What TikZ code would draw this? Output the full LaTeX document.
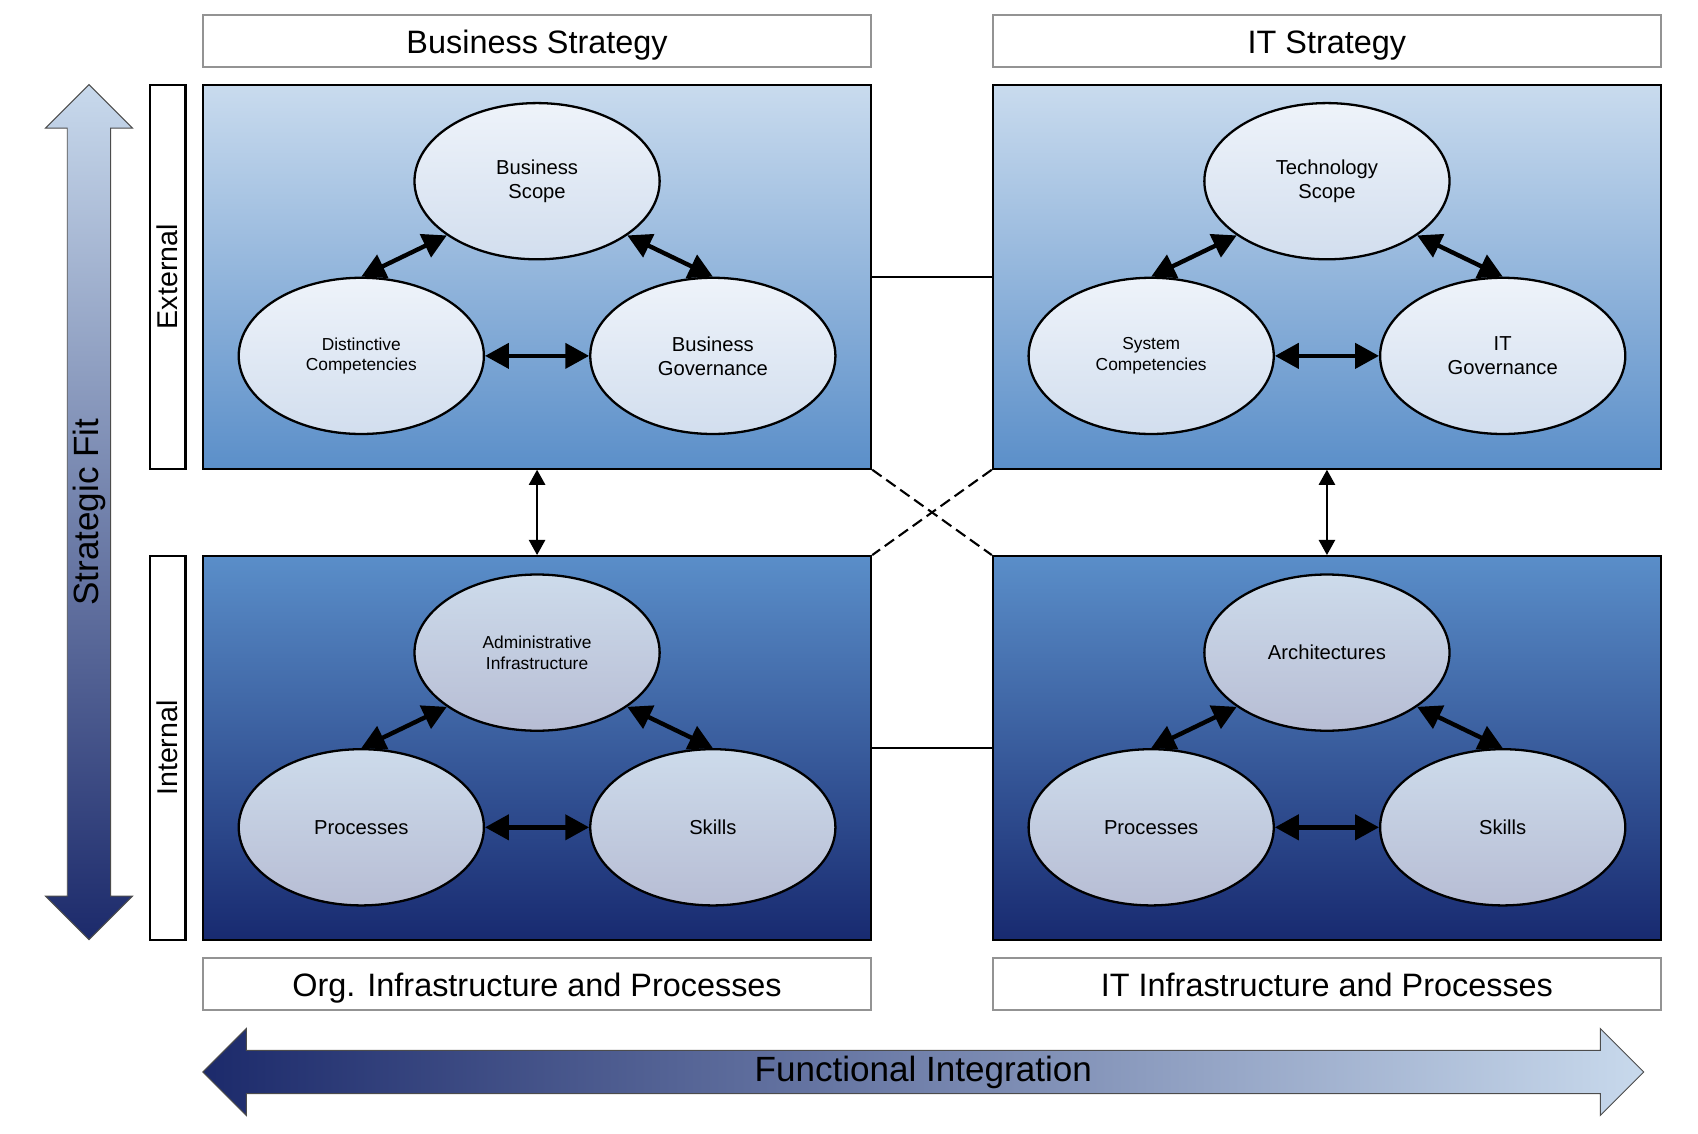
\documentclass[tikz,border=0pt]{standalone}
\usepackage{fontspec}
\setmainfont{Liberation Sans}
\usetikzlibrary{arrows.meta, calc}
\usetikzlibrary{shapes.geometric}
\usetikzlibrary{positioning}

\definecolor{upTop}{HTML}{C9DBEE}
\definecolor{upBot}{HTML}{5B8FC9}
\definecolor{loTop}{HTML}{5A8EC9}
\definecolor{loBot}{HTML}{182A70}
\definecolor{ovTop}{HTML}{EEF3FA}
\definecolor{ovBot}{HTML}{D2DEEE}
\definecolor{ovlTop}{HTML}{CDDBEB}
\definecolor{ovlBot}{HTML}{B7BDD4}
\definecolor{fitTop}{HTML}{C8D9EC}
\definecolor{fitMid}{HTML}{93A2C2}
\definecolor{fitBot}{HTML}{1C2A6B}

\begin{document}
\begin{tikzpicture}
  [
    x=0.02cm, y=-0.02cm,
    >=Triangle,
    quadbox/.style   = {draw, line width=1.1pt, minimum width=12.32cm, minimum height=7.08cm, inner sep=0pt},
    upquad/.style    = {quadbox, top color=upTop, bottom color=upBot},
    loquad/.style    = {quadbox, top color=loTop, bottom color=loBot},
    titlebox/.style  = {draw=gray!85, line width=1.1pt, fill=white, minimum width=12.32cm, minimum height=0.96cm, inner sep=0pt, text height=13.5pt, text depth=0.5pt, font=\fontsize{17}{20}\selectfont},
    sidebox/.style   = {draw, line width=1.1pt, fill=white, minimum width=7.08cm, minimum height=0.66cm, inner sep=0pt, rotate=90, font=\fontsize{15}{18}\selectfont},
    field/.style     = {draw, ellipse, line width=1.2pt, minimum width=4.52cm, minimum height=2.88cm, inner sep=0pt, align=center, font=\fontsize{10.6}{12.5}\selectfont},
    fieldup/.style   = {field, top color=ovTop, bottom color=ovBot},
    fieldlo/.style   = {field, top color=ovlTop, bottom color=ovlBot},
    smalltxt/.style  = {font=\fontsize{9.1}{10.8}\selectfont},
    duallink/.style  = {line width=2.3pt, {Triangle[length=0.44cm, width=0.46cm]}-{Triangle[length=0.44cm, width=0.46cm]}},
    fitlink/.style   = {line width=1.1pt, {Triangle[length=0.28cm, width=0.3cm]}-{Triangle[length=0.28cm, width=0.3cm]}},
    bigtxt/.style    = {font=\fontsize{18.4}{22}\selectfont},
  ]

  \useasboundingbox (0,0) rectangle (1565,1045);

  % offsets of the three domains inside a quadrant
  \def\dx{162}
  \def\dtop{-88}
  \def\dlow{73}

  % Strategic fit arrow (vertical)
  \shadedraw[draw=gray!60!black, line width=0.5pt, top color=fitTop, middle color=fitMid, bottom color=fitBot]
    (62,118) -- (42,118) -- (82,78) -- (122,118) -- (102,118) -- (102,826)
    -- (122,826) -- (82,866) -- (42,826) -- (62,826) -- cycle;
  \node (fitlabel) at (82,472) [bigtxt, rotate=90] {Strategic Fit};

  % Functional integration arrow (horizontal)
  \shadedraw[draw=gray!60!black, line width=0.5pt, left color=fitBot, middle color=fitMid, right color=fitTop]
    (227,968) -- (227,948) -- (187,988) -- (227,1028) -- (227,1008) -- (1475,1008)
    -- (1475,1028) -- (1515,988) -- (1475,948) -- (1475,968) -- cycle;
  \node (intlabel) at (851,988) [bigtxt] {Functional Integration};

  % quadrants
  \node (bs) at (495,255) [upquad] {};
  \node (its) at (1223,255) [upquad] {};
  \node (oip) at (495,689.5) [loquad] {};
  \node (iip) at (1223,689.5) [loquad] {};

  % titles
  \node (bstitle) at (495,38) [titlebox] {Business Strategy};
  \node (itstitle) at (1223,38) [titlebox] {IT Strategy};
  \node (oiptitle) at (495,907) [titlebox] {Org. Infrastructure and Processes};
  \node (iiptitle) at (1223,907) [titlebox] {IT Infrastructure and Processes};

  % external / internal
  \node (ext) at (154.5,255) [sidebox] {External};
  \node (int) at (154.5,689.5) [sidebox] {Internal};

  % links between quadrants
  \draw[line width=1.1pt] (bs.east) -- (its.west);
  \draw[line width=1.1pt] (oip.east) -- (iip.west);
  \draw[line width=1.1pt, dash pattern=on 6pt off 3pt] (bs.south east) -- (iip.north west);
  \draw[line width=1.1pt, dash pattern=on 6pt off 3pt] (its.south west) -- (oip.north east);
  \draw[fitlink] (bs.south) -- (oip.north);
  \draw[fitlink] (its.south) -- (iip.north);

  % Business strategy
  \path (bs) ++(0,\dtop) node (bscope) [fieldup] {Business\\Scope};
  \path (bs) ++(-\dx,\dlow) node (bcomp) [fieldup, smalltxt] {Distinctive\\Competencies};
  \path (bs) ++(\dx,\dlow) node (bgov) [fieldup] {Business\\Governance};
  \draw[duallink] (bcomp.north) -- (bscope.211);
  \draw[duallink] (bgov.north) -- (bscope.329);
  \draw[duallink] (bcomp.east) -- (bgov.west);

  % IT strategy
  \path (its) ++(0,\dtop) node (tscope) [fieldup] {Technology\\Scope};
  \path (its) ++(-\dx,\dlow) node (scomp) [fieldup, smalltxt] {System\\Competencies};
  \path (its) ++(\dx,\dlow) node (itgov) [fieldup] {IT\\Governance};
  \draw[duallink] (scomp.north) -- (tscope.211);
  \draw[duallink] (itgov.north) -- (tscope.329);
  \draw[duallink] (scomp.east) -- (itgov.west);

  % Org. infrastructure and processes
  \path (oip) ++(0,\dtop) node (admin) [fieldlo, smalltxt] {Administrative\\Infrastructure};
  \path (oip) ++(-\dx,\dlow) node (oproc) [fieldlo] {Processes};
  \path (oip) ++(\dx,\dlow) node (oskill) [fieldlo] {Skills};
  \draw[duallink] (oproc.north) -- (admin.211);
  \draw[duallink] (oskill.north) -- (admin.329);
  \draw[duallink] (oproc.east) -- (oskill.west);

  % IT infrastructure and processes
  \path (iip) ++(0,\dtop) node (arch) [fieldlo] {Architectures};
  \path (iip) ++(-\dx,\dlow) node (iproc) [fieldlo] {Processes};
  \path (iip) ++(\dx,\dlow) node (iskill) [fieldlo] {Skills};
  \draw[duallink] (iproc.north) -- (arch.211);
  \draw[duallink] (iskill.north) -- (arch.329);
  \draw[duallink] (iproc.east) -- (iskill.west);
\end{tikzpicture}
\end{document}
